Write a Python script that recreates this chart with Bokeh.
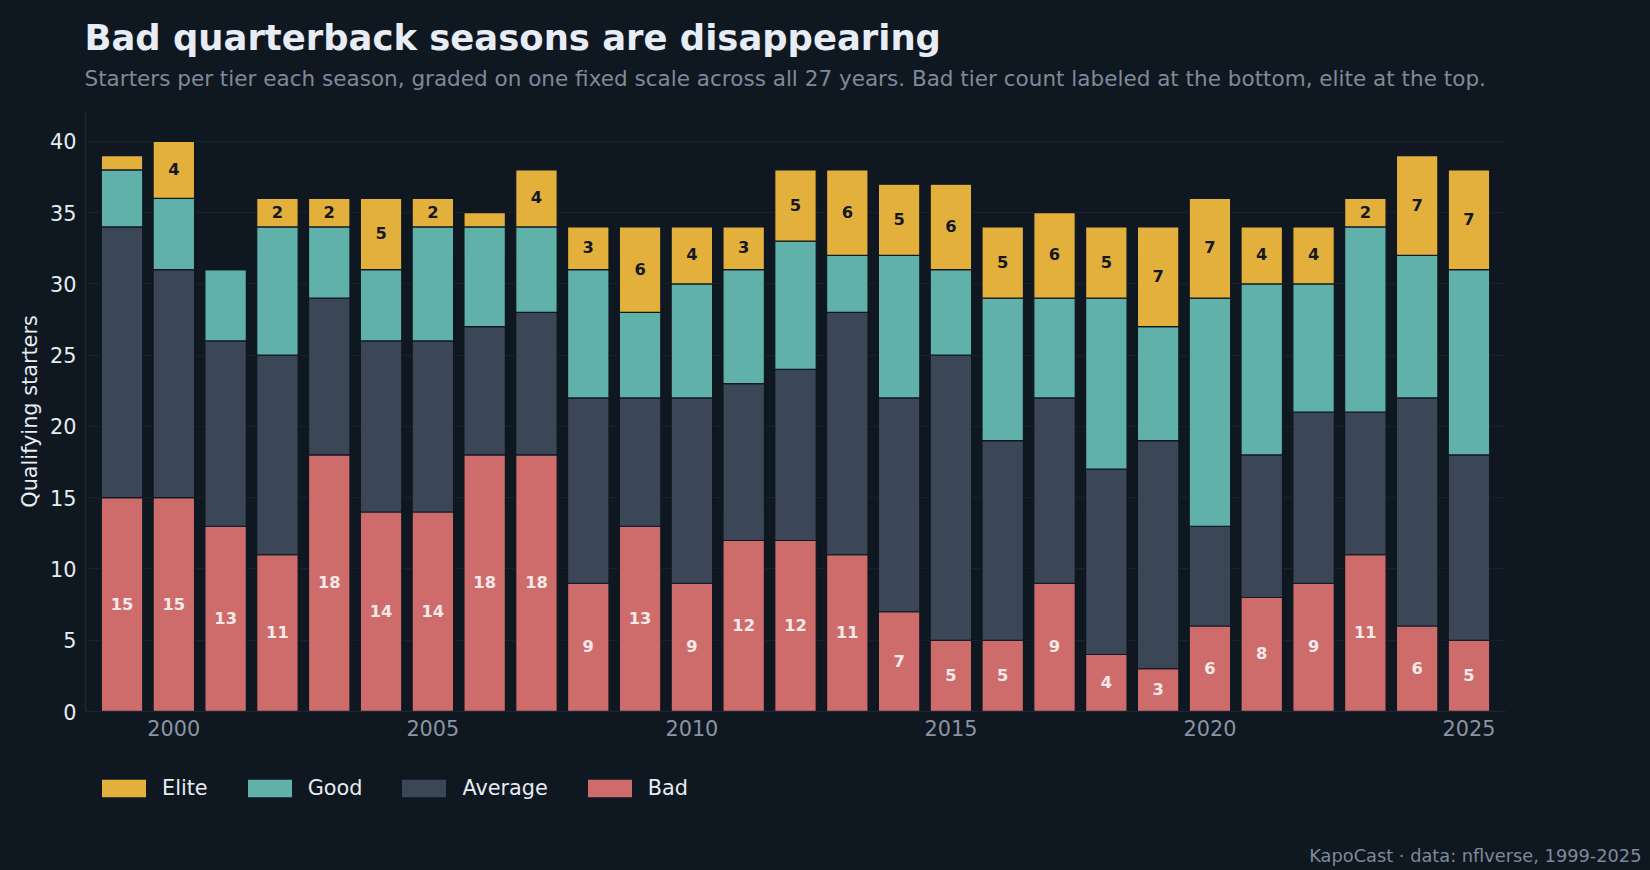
from bokeh.core.properties import value
from bokeh.embed import file_html
from bokeh.layouts import column, row
from bokeh.resources import INLINE
from bokeh.plotting import figure
from bokeh.models import ColumnDataSource, Label, Legend, LegendItem, Range1d, FixedTicker, Title

seasons = list(range(1999, 2026))
bad = [15, 15, 13, 11, 18, 14, 14, 18, 18, 9, 13, 9, 12, 12, 11, 7, 5, 5, 9, 4, 3, 6, 8, 9, 11, 6, 5]
average = [19, 16, 13, 14, 11, 12, 12, 9, 10, 13, 9, 13, 11, 12, 17, 15, 20, 14, 13, 13, 16, 7, 10, 12, 10, 16, 13]
good = [4, 5, 5, 9, 5, 5, 8, 7, 6, 9, 6, 8, 8, 9, 4, 10, 6, 10, 7, 12, 8, 16, 12, 9, 13, 10, 13]
elite = [1, 4, 0, 2, 2, 5, 2, 1, 4, 3, 6, 4, 3, 5, 6, 5, 6, 5, 6, 5, 7, 7, 4, 4, 2, 7, 7]
tiers = ["Bad", "Average", "Good", "Elite"]
x_ticks = [2000, 2005, 2010, 2015, 2020, 2025]
y_ticks = [0, 5, 10, 15, 20, 25, 30, 35, 40]

BG = "#0f1720"
COLORS = ["#ce6c6c", "#3b4757", "#5fb1a9", "#e4b03c"]
W, H = 1650, 870
L, R, T, B = 85, 1505, 111, 711
MAIN_H = 762

p = figure(width=W, height=MAIN_H, output_backend="svg", toolbar_location=None,
           x_range=Range1d(1998.295, 2025.705), y_range=Range1d(0, 42.1),
           background_fill_color=BG, border_fill_color=BG,
           min_border_left=L, min_border_right=W - R,
           min_border_top=T, min_border_bottom=MAIN_H - B)
p.outline_line_color = None

src = ColumnDataSource(dict(season=seasons, Bad=bad, Average=average, Good=good, Elite=elite))
p.vbar_stack(tiers, x="season", width=0.8, source=src, color=COLORS, line_color=BG, line_width=1.2)

# count labels
p.text(x=seasons, y=[v / 2 for v in bad], text=[str(v) for v in bad], y_offset=-1,
       text_align="center", text_baseline="middle", text_font=value("DejaVu Sans"), text_font_style="bold",
       text_font_size="16.3px", text_color="#f5e9e9")
el = [(s, b + a + g + e / 2, str(e)) for s, b, a, g, e in zip(seasons, bad, average, good, elite) if e >= 2]
p.text(x=[d[0] for d in el], y=[d[1] for d in el], text=[d[2] for d in el], y_offset=-1,
       text_align="center", text_baseline="middle", text_font=value("DejaVu Sans"), text_font_style="bold",
       text_font_size="16.3px", text_color="#14181f")

# axes
GRID = "#18212c"
p.xgrid.visible = False
p.ygrid.ticker = FixedTicker(ticks=y_ticks)
p.ygrid.grid_line_color = GRID
p.ygrid.grid_line_width = 1
p.xaxis.ticker = FixedTicker(ticks=x_ticks)
p.yaxis.ticker = FixedTicker(ticks=y_ticks)
for ax in (p.xaxis[0], p.yaxis[0]):
    ax.axis_line_color = "#1c2631"
    ax.axis_line_width = 1.5
    ax.major_tick_line_color = None
    ax.minor_tick_line_color = None
    ax.major_label_text_font = "DejaVu Sans"
    ax.major_label_text_font_size = "20.8px"
p.xaxis.major_label_text_color = "#8a94a3"
p.yaxis.major_label_text_color = "#e8ecf3"
p.xaxis.major_label_standoff = 2
p.yaxis.major_label_standoff = 3
p.yaxis.axis_label = "Qualifying starters"
p.yaxis.axis_label_text_font = "DejaVu Sans"
p.yaxis.axis_label_text_font_style = "normal"
p.yaxis.axis_label_text_font_size = "20.8px"
p.yaxis.axis_label_text_color = "#e8ecf3"
p.yaxis.axis_label_standoff = 5

# title block
p.add_layout(Title(text="Starters per tier each season, graded on one fixed scale across all 27 years. Bad tier count labeled at the bottom, elite at the top.",
                   align="left", standoff=42, offset=-1,
                   text_font="DejaVu Sans", text_font_style="normal", text_font_size="21.54px",
                   text_color="#7f8a99"), "above")
p.add_layout(Title(text="Bad quarterback seasons are disappearing", align="left", standoff=-31, offset=-1,
                   text_font="DejaVu Sans", text_font_style="bold", text_font_size="35.4px",
                   text_color="#e8ecf5"), "above")

# bottom strip: legend and footer
STRIP_H = H - MAIN_H
s = figure(width=W, height=STRIP_H, output_backend="svg", toolbar_location=None,
           x_range=Range1d(0, 1), y_range=Range1d(0, 1), x_axis_type=None, y_axis_type=None,
           background_fill_color=BG, border_fill_color=BG,
           min_border_left=0, min_border_right=0, min_border_top=0, min_border_bottom=0)
s.outline_line_color = None
s.grid.visible = False
# one off-range row per tier: only the legend key of each renderer is seen
swatches = {t: s.vbar(x=[2], top=[2], width=1, color=c, line_color=c, line_width=0)
            for t, c in zip(tiers, COLORS)}
legend = Legend(items=[LegendItem(label=t, renderers=[swatches[t]]) for t in reversed(tiers)],
                orientation="horizontal", location=(96, H - 800),
                background_fill_alpha=0, border_line_color=None, padding=0, margin=0,
                glyph_width=55, glyph_height=22, label_standoff=11, spacing=34,
                label_text_font="DejaVu Sans", label_text_font_size="20.8px", label_text_color="#e8ecf3")
s.add_layout(legend, "center")
s.add_layout(Label(x=1641, y=15, x_units="screen", y_units="screen",
                   text="KapoCast · data: nflverse, 1999-2025",
                   text_font="DejaVu Sans", text_font_size="17.8px", text_align="right",
                   text_color="#7f8a99", text_baseline="alphabetic"))

page = column(row(p), row(s), spacing=0)
html = file_html(page, INLINE)
html = html.replace("<head>", "<head><style>html,body{background:%s}</style>" % BG, 1)
open("out.html", "w").write(html)
